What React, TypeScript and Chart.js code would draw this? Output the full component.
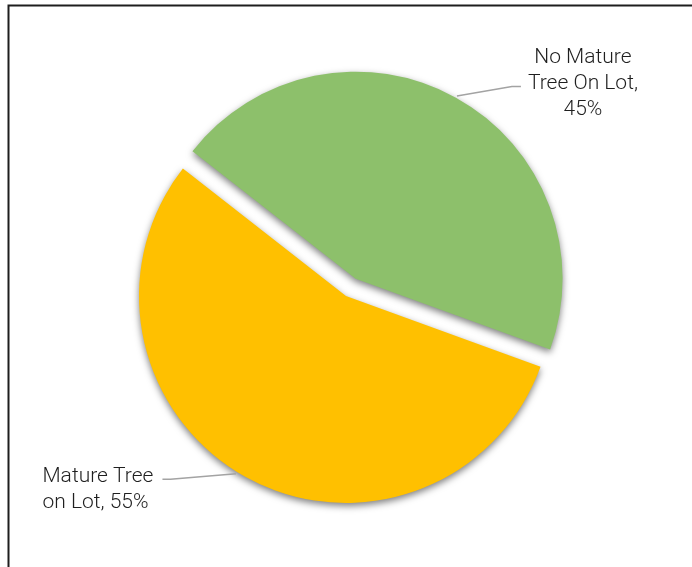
import React, { useEffect, useRef } from "react";
import { Chart, registerables } from "chart.js";

Chart.register(...registerables);

// ---- data ----
const categories = ["Mature Tree on Lot", "No Mature Tree On Lot"];
const values = [55, 45];

// ---- styles ----
const colors = ["#FFC000", "#8DC06B"];
const explodePx = [0, 19.8];
const labelAnchorFrac = [0.514, 0.5];
const labelElbow = [
  [-65.5, 5.5],
  [55, -9.5],
];
const labelTail = [-8, 9];
const labelAlign: CanvasTextAlign[] = ["left", "center"];
const labelTextDX = [-120, 62];
const labelFirstBaseline = [3.2, -23.2];
const LINE_H = 26;
const FONT = "300 21px Roboto, 'Liberation Sans', sans-serif";
const WRAP = 130;

function wrap(ctx: CanvasRenderingContext2D, text: string, max: number) {
  const words = text.split(" ");
  const lines: string[] = [];
  let cur = "";
  for (const w of words) {
    const t = cur ? cur + " " + w : w;
    if (cur && ctx.measureText(t).width > max) {
      lines.push(cur);
      cur = w;
    } else cur = t;
  }
  if (cur) lines.push(cur);
  return lines;
}

function shiftOf(arc: any, i: number) {
  const p = arc.getProps(["startAngle", "endAngle"], true);
  const mid = (p.startAngle + p.endAngle) / 2;
  return [Math.cos(mid) * explodePx[i], Math.sin(mid) * explodePx[i]];
}

const borderPlugin = {
  id: "frame",
  beforeDraw(chart: any) {
    const ctx = chart.ctx as CanvasRenderingContext2D;
    ctx.save();
    ctx.fillStyle = "#ffffff";
    ctx.fillRect(0, 0, chart.width, chart.height);
    ctx.strokeStyle = "#1e1e1e";
    ctx.lineWidth = 2;
    ctx.beginPath();
    ctx.moveTo(8.5, chart.height + 2);
    ctx.lineTo(8.5, 5.5);
    ctx.lineTo(chart.width + 2, 5.5);
    ctx.stroke();
    ctx.restore();
  },
};

const explodePlugin = {
  id: "explodeShadow",
  beforeDatasetsDraw(chart: any) {
    const ctx = chart.ctx as CanvasRenderingContext2D;
    const meta = chart.getDatasetMeta(0);
    ctx.save();
    ctx.shadowColor = "rgba(0,0,0,0.5)";
    ctx.shadowBlur = 7;
    ctx.shadowOffsetX = 0;
    ctx.shadowOffsetY = 3;
    meta.data.forEach((arc: any, i: number) => {
      const [dx, dy] = shiftOf(arc, i);
      ctx.save();
      ctx.translate(dx, dy);
      arc.draw(ctx);
      ctx.restore();
    });
    ctx.restore();
    return false;
  },
};

const labelPlugin = {
  id: "pieLabels",
  afterDraw(chart: any) {
    const ctx = chart.ctx as CanvasRenderingContext2D;
    const meta = chart.getDatasetMeta(0);
    const total = values.reduce((a, b) => a + b, 0);
    ctx.save();
    ctx.font = FONT;
    meta.data.forEach((arc: any, i: number) => {
      const p = arc.getProps(["x", "y", "startAngle", "endAngle", "outerRadius"], true);
      const [dx, dy] = shiftOf(arc, i);
      const cx = p.x + dx;
      const cy = p.y + dy;
      const a = p.startAngle + (p.endAngle - p.startAngle) * labelAnchorFrac[i];
      const ax = cx + Math.cos(a) * (p.outerRadius + 2);
      const ay = cy + Math.sin(a) * (p.outerRadius + 2);
      const ex = ax + labelElbow[i][0];
      const ey = ay + labelElbow[i][1];
      const tx = ex + labelTail[i];
      ctx.strokeStyle = "#a3a3a3";
      ctx.lineWidth = 1.5;
      ctx.beginPath();
      ctx.moveTo(ax, ay);
      ctx.lineTo(ex, ey);
      ctx.lineTo(tx, ey);
      ctx.stroke();

      const text = `${categories[i]}, ${Math.round((values[i] / total) * 100)}%`;
      const lines = wrap(ctx, text, WRAP);
      ctx.fillStyle = "#1f1f1f";
      ctx.textAlign = labelAlign[i];
      ctx.textBaseline = "alphabetic";
      lines.forEach((ln, k) => {
        ctx.fillText(ln, tx + labelTextDX[i], ey + labelFirstBaseline[i] + k * LINE_H);
      });
    });
    ctx.restore();
  },
};

export default function App() {
  const ref = useRef<HTMLCanvasElement | null>(null);
  useEffect(() => {
    if (!ref.current) return;
    const chart = new Chart(ref.current, {
      type: "pie",
      data: {
        labels: categories,
        datasets: [
          {
            data: values,
            backgroundColor: colors,
            borderWidth: 0,
            offset: 0,
          },
        ],
      },
      options: {
        animation: false,
        responsive: false,
        rotation: 110,
        radius: 207,
        layout: { padding: { left: 0, right: 0, top: 25, bottom: 0 } },
        plugins: {
          legend: { display: false },
          tooltip: { enabled: false },
        },
        events: [],
      },
      plugins: [borderPlugin, explodePlugin, labelPlugin],
    });
    return () => chart.destroy();
  }, []);
  return (
    <div
      style={{
        position: "fixed",
        left: 0,
        top: 0,
        width: 692,
        height: 567,
        overflow: "hidden",
        background: "#fff",
      }}
    >
      <canvas ref={ref} width={692} height={567} style={{ display: "block" }} />
    </div>
  );
}
